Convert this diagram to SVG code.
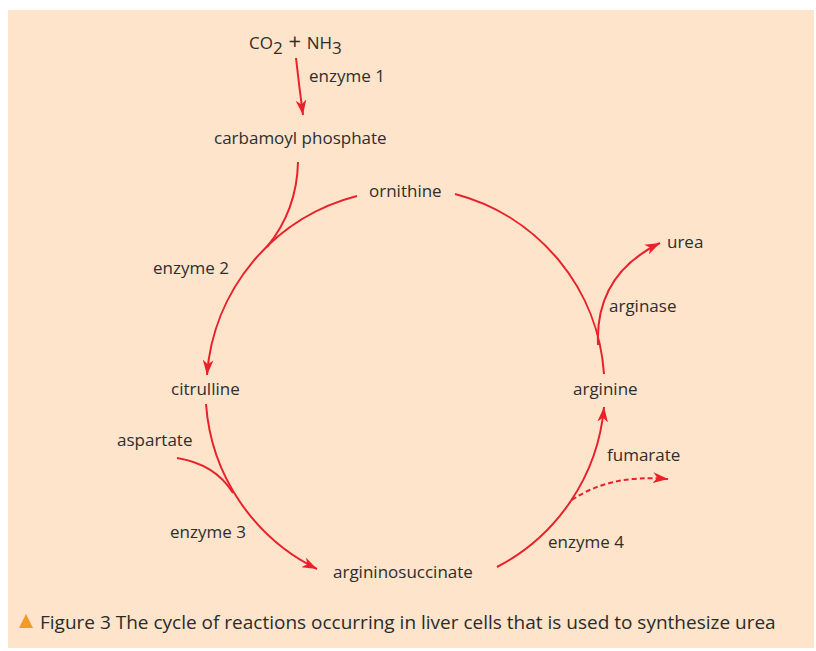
<svg xmlns="http://www.w3.org/2000/svg" width="816" height="651" viewBox="0 0 816 651">
<style>
.bg{fill:#fde4ca}
.lbl{font-family:"Open Sans","Noto Sans","DejaVu Sans",sans-serif;font-size:17px;fill:#2e2e2e}
.cap{font-family:"Open Sans","Noto Sans","DejaVu Sans",sans-serif;font-size:19px;fill:#2b2b2b}
.ln{fill:none;stroke:#e8212b;stroke-width:2}
.arr{marker-end:url(#ah)}
.dash{stroke-dasharray:5 3}
</style>
<defs>
<marker id="ah" viewBox="0 0 14 10" refX="14" refY="5" markerWidth="15" markerHeight="11" markerUnits="userSpaceOnUse" orient="auto">
<path d="M0,0 L14,5 L0,10 L4,5 Z" fill="#e8212b"/>
</marker>
</defs>
<rect class="bg" x="8" y="10" width="806" height="638"/>
<g id="connectors">
<path class="ln arr" d="M296,58 Q299,85 303,115"/>
<path class="ln" d="M298,162 Q297,210 267,247"/>
<path class="ln arr" d="M357,196 A200,200 0 0,0 207,375"/>
<path class="ln arr" d="M206,404 A200,200 0 0,0 317,569"/>
<path class="ln" d="M177,458 Q215,464 233,493"/>
<path class="ln arr" d="M497,567 A200,200 0 0,0 604,407"/>
<path class="ln dash arr" d="M572,500 Q610,474 668,479"/>
<path class="ln" d="M604,374 A200,200 0 0,0 455,194"/>
<path class="ln arr" d="M598,345 C596,300 615,265 660,243"/>
</g>
<g id="n-co2"><text class="lbl" x="249" y="49">CO<tspan dy="5">2</tspan><tspan dy="-5" font-size="22px"> + </tspan>NH<tspan dy="5">3</tspan></text></g>
<g id="n-enzyme1"><text class="lbl" x="309" y="82">enzyme 1</text></g>
<g id="n-carbamoyl"><text class="lbl" x="214" y="144">carbamoyl phosphate</text></g>
<g id="n-ornithine"><text class="lbl" x="369" y="197">ornithine</text></g>
<g id="n-enzyme2"><text class="lbl" x="153" y="274">enzyme 2</text></g>
<g id="n-citrulline"><text class="lbl" x="171" y="395">citrulline</text></g>
<g id="n-aspartate"><text class="lbl" x="117" y="446">aspartate</text></g>
<g id="n-enzyme3"><text class="lbl" x="170" y="538">enzyme 3</text></g>
<g id="n-argininosuccinate"><text class="lbl" x="333" y="578">argininosuccinate</text></g>
<g id="n-enzyme4"><text class="lbl" x="548" y="548">enzyme 4</text></g>
<g id="n-fumarate"><text class="lbl" x="607" y="461">fumarate</text></g>
<g id="n-arginine"><text class="lbl" x="573" y="395">arginine</text></g>
<g id="n-arginase"><text class="lbl" x="609" y="312">arginase</text></g>
<g id="n-urea"><text class="lbl" x="667" y="248">urea</text></g>
<g id="caption">
<polygon points="19,628 26,614 33,628" fill="#f39a2a"/>
<text class="cap" x="40" y="629">Figure 3 The cycle of reactions occurring in liver cells that is used to synthesize urea</text>
</g>
</svg>
